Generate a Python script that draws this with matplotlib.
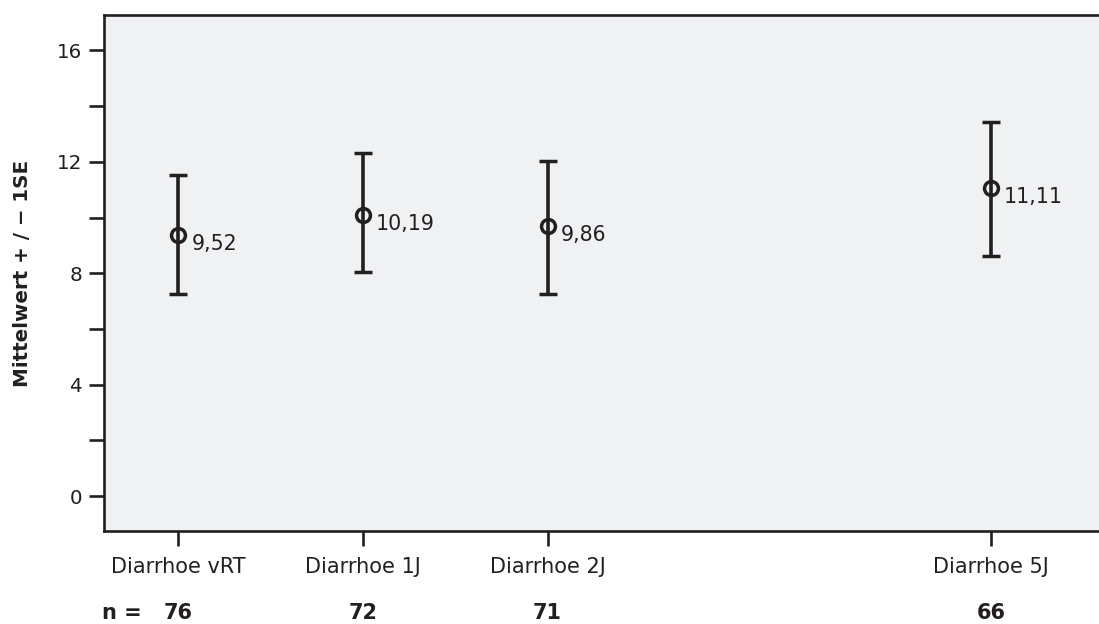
import matplotlib
matplotlib.use("Agg")
from matplotlib import pyplot as plt
from matplotlib.ticker import MultipleLocator
import matplotlib.transforms as mtransforms

# data
categories = ['Diarrhoe vRT', 'Diarrhoe 1J', 'Diarrhoe 2J', 'Diarrhoe 5J']
x_pos = [0, 1, 2, 4.4]
means = [9.38, 10.10, 9.70, 11.07]
upper = [11.52, 12.30, 12.04, 13.43]
lower = [7.26, 8.05, 7.25, 8.62]
mean_labels = ['9,52', '10,19', '9,86', '11,11']
n_values = ['76', '72', '71', '66']

ink = '#231f20'
bg = '#f0f1f3'

plt.rcParams['font.family'] = 'DejaVu Sans'
fig = plt.figure(figsize=(10.99, 6.24), dpi=100)
ax = fig.add_axes([0.0949, 0.1495, 0.9051, 0.826])
ax.set_facecolor(bg)

err_low = [m - l for m, l in zip(means, lower)]
err_high = [u - m for m, u in zip(means, upper)]
ax.errorbar(x_pos, means, yerr=[err_low, err_high], fmt='o', color=ink,
            ecolor=ink, elinewidth=2.6, capsize=6.5, capthick=2.8,
            markersize=10, markeredgewidth=2.5, markerfacecolor='none')

for x, m, lab in zip(x_pos, means, mean_labels):
    ax.annotate(lab, (x, m), xytext=(9.5, -6.5), textcoords='offset points',
                ha='left', va='center', fontsize=14.8, color=ink)

ax.set_xlim(-0.4, 4.985)
ax.set_ylim(-1.24, 17.26)
ax.set_xticks(x_pos)
ax.set_xticklabels(categories)
ax.yaxis.set_major_locator(MultipleLocator(4))
ax.yaxis.set_minor_locator(MultipleLocator(2))
ax.yaxis.set_minor_formatter(plt.NullFormatter())

ax.tick_params(axis='both', which='both', length=11, width=1.9, color=ink,
               labelcolor=ink)
ax.tick_params(axis='y', pad=5, labelsize=14.3)
ax.tick_params(axis='x', pad=8, labelsize=15)

for side in ['left', 'bottom', 'top']:
    ax.spines[side].set_linewidth(1.9)
    ax.spines[side].set_color(ink)
ax.spines['right'].set_visible(False)

ax.set_ylabel('Mittelwert + / \u2212 1SE', fontsize=14.3, fontweight='bold', color=ink)
ax.yaxis.set_label_coords(-0.0727, 0.5)

# n row under the category labels
trans = mtransforms.blended_transform_factory(ax.transData, ax.transAxes)
ax.text(-0.41, -0.16, 'n =', transform=trans, ha='left', va='center',
        fontsize=15, fontweight='bold', color=ink)
for x, n in zip(x_pos, n_values):
    ax.text(x, -0.16, n, transform=trans, ha='center', va='center',
            fontsize=15, fontweight='bold', color=ink)

fig.savefig('out.png', dpi=100, facecolor='white')
